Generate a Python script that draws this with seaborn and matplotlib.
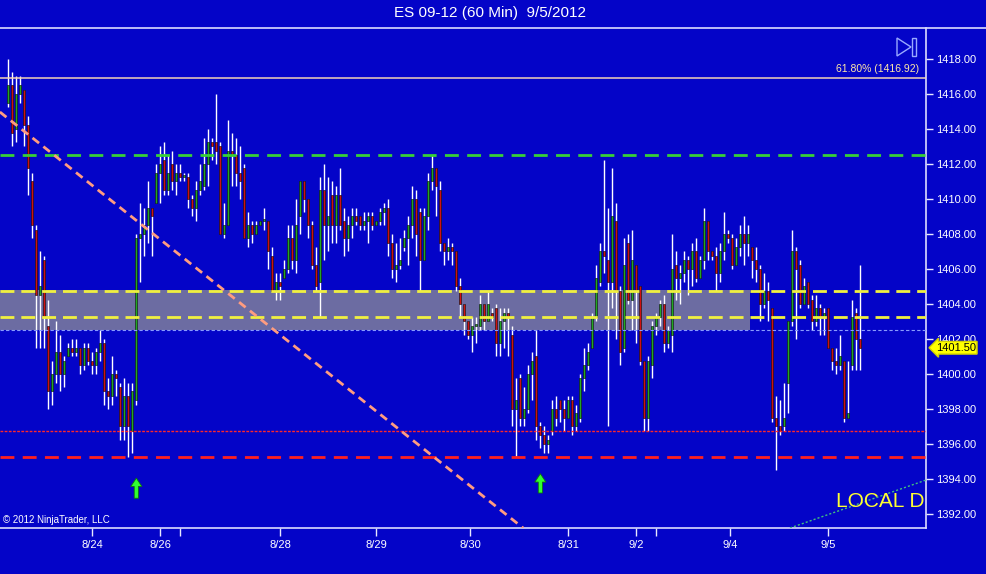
import numpy as np
import pandas as pd
import seaborn as sns
import matplotlib.pyplot as plt
from matplotlib.lines import Line2D
from matplotlib.patches import Polygon, Rectangle
import matplotlib.transforms as mtransforms

# hourly ES bars, 8/23 evening -> 9/5
opens = [1415.5, 1416.5, 1414.0, 1416.0, 1416.25, 1414.25, 1411.0, 1408.25, 1404.5, 1406.5,
         1402.75, 1399.0, 1400.0, 1401.25, 1400.0, 1401.0, 1401.5, 1401.25, 1401.5, 1400.5,
         1401.5, 1400.75, 1400.5, 1401.25, 1401.75, 1399.0, 1398.75, 1400.0, 1399.25, 1397.0,
         1398.75, 1396.75, 1398.5, 1407.75, 1408.0, 1408.5, 1409.5, 1409.75, 1411.5, 1412.25,
         1410.5, 1412.0, 1411.0, 1411.5, 1411.25, 1411.25, 1410.0, 1409.5, 1410.5, 1410.75,
         1412.0, 1413.25, 1413.25, 1413.0, 1408.0, 1408.5, 1412.75, 1412.5, 1411.5, 1411.75,
         1407.75, 1408.5, 1408.0, 1408.5, 1408.75, 1408.75, 1406.75, 1404.75, 1405.25, 1405.5,
         1406.0, 1407.75, 1406.5, 1409.0, 1411.0, 1410.0, 1408.5, 1406.25, 1405.25, 1410.5,
         1408.5, 1410.25, 1408.5, 1410.25, 1408.75, 1407.75, 1408.5, 1409.0, 1409.0, 1408.5,
         1408.75, 1409.0, 1408.5, 1408.75, 1409.25, 1409.5, 1407.5, 1406.0, 1406.25, 1407.25,
         1407.75, 1408.5, 1410.0, 1409.25, 1406.5, 1409.0, 1411.0, 1411.75, 1410.5, 1407.5,
         1407.0, 1407.25, 1407.0, 1405.0, 1404.0, 1403.0, 1402.25, 1402.75, 1402.75, 1404.0,
         1403.0, 1403.5, 1403.75, 1401.75, 1403.0, 1403.5, 1402.25, 1398.0, 1399.75, 1397.5,
         1398.0, 1400.0, 1401.0, 1397.0, 1396.5, 1396.0, 1396.75, 1398.0, 1398.5, 1398.0,
         1397.5, 1398.5, 1397.0, 1397.5, 1399.75, 1400.5, 1401.5, 1403.25, 1405.25, 1407.0,
         1406.5, 1405.25, 1408.75, 1404.75, 1401.5, 1407.5, 1404.25, 1406.25, 1405.0, 1400.75,
         1397.5, 1400.5, 1402.75, 1403.25, 1404.0, 1401.75, 1402.25, 1406.25, 1405.5, 1405.75,
         1406.5, 1406.0, 1407.0, 1405.5, 1406.5, 1408.75, 1407.0, 1406.75, 1405.75, 1407.0,
         1408.0, 1407.75, 1406.25, 1407.25, 1408.0, 1407.5, 1407.25, 1406.5, 1406.0, 1404.0,
         1404.75, 1403.75, 1397.5, 1397.0, 1397.0, 1399.5, 1403.0, 1407.0, 1406.25, 1404.0,
         1405.25, 1404.25, 1403.0, 1403.75, 1403.25, 1403.75, 1401.5, 1400.75, 1400.5, 1400.75,
         1397.5, 1400.5, 1403.5, 1402.0]
highs = [1418.0, 1417.25, 1417.0, 1417.0, 1416.25, 1414.75, 1411.5, 1408.5, 1407.0, 1406.75,
         1404.25, 1400.75, 1403.0, 1402.25, 1401.0, 1401.75, 1402.0, 1402.0, 1401.5, 1401.75,
         1401.75, 1401.25, 1401.5, 1402.5, 1402.0, 1399.75, 1401.0, 1400.25, 1399.5, 1399.75,
         1399.5, 1399.5, 1408.0, 1409.75, 1409.5, 1411.0, 1409.5, 1412.0, 1413.0, 1413.25,
         1412.5, 1412.75, 1412.0, 1412.0, 1411.5, 1411.5, 1410.25, 1411.0, 1412.0, 1413.5,
         1414.0, 1413.5, 1416.0, 1413.25, 1409.75, 1414.5, 1413.75, 1413.5, 1413.0, 1412.0,
         1409.25, 1408.75, 1408.75, 1408.75, 1409.5, 1408.75, 1407.25, 1405.75, 1405.75, 1406.5,
         1408.5, 1408.5, 1410.0, 1411.0, 1411.0, 1410.0, 1408.75, 1407.25, 1411.25, 1412.0,
         1411.25, 1411.0, 1410.75, 1411.75, 1409.5, 1409.0, 1409.5, 1409.5, 1409.0, 1409.25,
         1409.25, 1409.25, 1408.75, 1409.5, 1409.75, 1410.0, 1408.0, 1407.5, 1407.75, 1408.25,
         1409.0, 1410.75, 1410.5, 1409.5, 1409.5, 1411.5, 1412.5, 1411.75, 1411.0, 1407.5,
         1407.75, 1407.5, 1407.0, 1405.5, 1404.0, 1403.0, 1403.25, 1403.25, 1404.5, 1404.0,
         1404.75, 1403.75, 1404.0, 1403.75, 1403.75, 1403.75, 1402.75, 1399.75, 1400.0, 1399.25,
         1400.5, 1401.25, 1402.5, 1397.25, 1397.0, 1396.5, 1398.5, 1398.75, 1398.5, 1398.5,
         1398.75, 1398.75, 1398.25, 1400.0, 1401.5, 1401.75, 1403.5, 1406.25, 1407.5, 1412.25,
         1409.5, 1411.75, 1409.75, 1405.0, 1407.75, 1408.0, 1408.25, 1406.25, 1405.0, 1400.75,
         1401.0, 1403.0, 1403.5, 1404.25, 1404.5, 1402.75, 1408.0, 1407.0, 1406.25, 1407.0,
         1406.75, 1407.5, 1407.75, 1406.75, 1409.5, 1408.75, 1407.0, 1407.25, 1407.5, 1409.25,
         1408.25, 1408.0, 1407.75, 1408.5, 1409.0, 1408.5, 1407.25, 1407.25, 1406.25, 1405.75,
         1405.25, 1403.75, 1398.75, 1398.5, 1399.5, 1403.0, 1408.25, 1407.25, 1406.5, 1405.5,
         1405.25, 1404.5, 1404.5, 1404.0, 1403.75, 1403.75, 1401.5, 1401.5, 1402.25, 1400.75,
         1400.75, 1404.25, 1403.75, 1406.25]
lows = [1415.25, 1413.0, 1413.25, 1415.5, 1413.0, 1410.25, 1407.75, 1401.5, 1401.5, 1401.5,
        1398.0, 1398.25, 1399.5, 1399.0, 1399.25, 1401.0, 1401.0, 1401.0, 1400.0, 1400.25,
        1400.5, 1400.0, 1400.0, 1400.75, 1398.25, 1398.0, 1398.25, 1398.75, 1396.25, 1396.25,
        1395.25, 1395.5, 1398.25, 1405.25, 1406.75, 1407.5, 1406.75, 1409.75, 1409.75, 1410.25,
        1410.25, 1410.5, 1410.25, 1411.0, 1411.0, 1409.5, 1409.0, 1408.75, 1410.25, 1410.5,
        1410.75, 1412.25, 1412.0, 1408.0, 1407.75, 1408.5, 1410.75, 1410.75, 1410.0, 1407.75,
        1407.25, 1407.5, 1408.0, 1408.5, 1408.25, 1406.0, 1404.75, 1404.25, 1404.25, 1405.5,
        1405.75, 1406.0, 1405.75, 1408.0, 1409.25, 1407.75, 1406.0, 1404.75, 1403.25, 1406.5,
        1407.0, 1407.5, 1407.5, 1408.25, 1406.75, 1407.0, 1407.75, 1408.5, 1408.25, 1408.25,
        1407.5, 1408.25, 1408.5, 1408.5, 1408.5, 1406.75, 1405.5, 1405.25, 1406.0, 1407.0,
        1406.25, 1407.75, 1406.75, 1404.75, 1406.5, 1408.25, 1410.5, 1409.0, 1407.0, 1406.25,
        1406.5, 1406.25, 1404.75, 1403.25, 1402.25, 1402.0, 1401.25, 1401.75, 1402.5, 1402.5,
        1403.0, 1403.0, 1401.0, 1401.0, 1401.5, 1401.0, 1397.0, 1395.25, 1397.0, 1397.0,
        1397.75, 1398.5, 1396.25, 1395.75, 1395.5, 1395.5, 1396.5, 1397.0, 1397.25, 1396.75,
        1397.5, 1396.5, 1396.75, 1397.25, 1399.0, 1400.25, 1401.5, 1403.0, 1405.0, 1405.75,
        1397.0, 1403.75, 1402.0, 1400.5, 1401.25, 1404.0, 1402.5, 1401.75, 1400.5, 1396.75,
        1396.75, 1399.75, 1402.25, 1402.75, 1401.25, 1401.5, 1401.25, 1404.25, 1404.0, 1405.25,
        1404.5, 1405.0, 1405.25, 1405.5, 1406.0, 1406.5, 1406.5, 1404.75, 1405.25, 1406.5,
        1407.5, 1406.0, 1406.25, 1406.75, 1406.25, 1406.75, 1405.5, 1405.25, 1403.0, 1403.75,
        1403.0, 1397.25, 1394.5, 1396.5, 1396.75, 1397.75, 1402.75, 1402.0, 1403.75, 1404.0,
        1403.75, 1402.5, 1402.75, 1402.25, 1402.25, 1401.5, 1400.25, 1400.0, 1400.25, 1397.25,
        1397.5, 1400.25, 1400.25, 1400.25]
closes = [1416.5, 1413.75, 1416.0, 1416.5, 1414.25, 1411.75, 1408.5, 1404.5, 1405.0, 1403.25,
          1399.0, 1400.0, 1401.25, 1400.0, 1400.75, 1401.5, 1401.25, 1401.5, 1400.5, 1401.5,
          1400.75, 1400.5, 1401.25, 1401.75, 1399.0, 1398.75, 1400.0, 1399.75, 1397.0, 1398.75,
          1397.0, 1399.0, 1407.75, 1408.0, 1408.5, 1409.5, 1409.0, 1411.5, 1412.0, 1410.5,
          1411.5, 1411.0, 1411.5, 1411.25, 1411.25, 1410.0, 1409.5, 1410.5, 1411.0, 1412.0,
          1413.25, 1413.0, 1412.75, 1408.0, 1408.5, 1412.75, 1412.5, 1411.5, 1411.0, 1407.75,
          1408.5, 1408.0, 1408.5, 1408.75, 1408.75, 1407.0, 1404.75, 1405.25, 1405.0, 1406.0,
          1407.75, 1406.5, 1408.5, 1411.0, 1410.0, 1408.5, 1406.25, 1405.0, 1410.5, 1408.5,
          1409.0, 1408.5, 1410.25, 1408.5, 1407.75, 1408.5, 1409.0, 1408.75, 1408.5, 1408.75,
          1409.0, 1408.5, 1408.75, 1409.25, 1409.5, 1407.5, 1406.0, 1406.25, 1406.5, 1407.75,
          1408.5, 1410.0, 1408.0, 1406.5, 1409.0, 1411.0, 1411.75, 1410.75, 1407.5, 1407.0,
          1407.25, 1407.0, 1405.0, 1404.0, 1403.0, 1402.25, 1402.75, 1402.75, 1404.0, 1403.0,
          1404.0, 1403.25, 1401.75, 1403.0, 1403.5, 1403.25, 1398.0, 1398.5, 1397.5, 1398.0,
          1400.0, 1400.75, 1397.0, 1396.5, 1396.0, 1396.25, 1398.0, 1397.5, 1398.0, 1397.5,
          1398.5, 1397.0, 1397.75, 1399.75, 1400.5, 1401.25, 1403.25, 1405.5, 1407.0, 1406.75,
          1405.25, 1409.0, 1404.75, 1401.25, 1406.25, 1404.25, 1406.5, 1404.75, 1400.75, 1397.5,
          1400.75, 1402.75, 1403.25, 1404.0, 1401.75, 1402.5, 1406.0, 1405.5, 1405.75, 1406.5,
          1406.0, 1407.0, 1405.5, 1406.5, 1408.75, 1407.0, 1406.75, 1405.75, 1407.0, 1408.0,
          1407.75, 1406.25, 1407.25, 1408.0, 1407.5, 1408.0, 1406.5, 1406.0, 1404.0, 1404.75,
          1404.25, 1397.5, 1397.0, 1396.75, 1397.5, 1403.0, 1407.0, 1406.0, 1404.0, 1405.0,
          1404.0, 1403.0, 1403.75, 1403.25, 1403.5, 1401.5, 1400.75, 1400.5, 1401.0, 1397.5,
          1397.75, 1403.25, 1402.0, 1401.5]

# date labels (bar index positions)
tick_pos = [21, 38, 43, 68, 92, 115.5, 140, 157, 162, 180.5, 205]
tick_labels = ['8/24', '8/26', '', '8/28', '8/29', '8/30', '8/31', '9/2', '', '9/4', '9/5']

# drawn levels
fib_level = 1416.92
green_level = 1412.5
zone_top, zone_bottom = 1404.8, 1402.5
zone_end = 185.4
yellow_levels = [1404.75, 1403.25]
blue_level = 1402.5
red_thin_level = 1396.75
red_level = 1395.25
last_price = 1401.50

trend_x = [-2.1, 128.7]
trend_y = [1414.97, 1391.2]
up_trend_x = [195.4, 229.4]
up_trend_y = [1391.2, 1393.94]

signal_x = [32, 133]
signal_tip = [1394.05, 1394.3]
signal_tail = [1392.9, 1393.2]

df = pd.DataFrame({'open': opens, 'high': highs, 'low': lows, 'close': closes})
df['bar'] = np.arange(len(df))

bg = '#0404c8'
sns.set_theme(style='dark', rc={'axes.facecolor': bg, 'figure.facecolor': bg})
plt.rcParams['font.family'] = ['Liberation Sans Narrow', 'Liberation Sans', 'DejaVu Sans']

fig = plt.figure(figsize=(9.86, 5.74), dpi=100)
ax = fig.add_axes([0, 46 / 574, 926 / 986, 500 / 574])
ax.set_facecolor(bg)

# grey zone
ax.fill_between([-3, zone_end], zone_bottom, zone_top, color='#6c6ca2', zorder=1, lw=0)

# candles
ax.vlines(df['bar'], df['low'], df['high'], color='white', lw=1.0, zorder=2)
body = (df['close'] - df['open']).to_numpy()
body = np.where(np.abs(body) < 0.1, 0.1, body)
body_colors = np.where(df['close'] >= df['open'], '#22a822', '#d01010')
ax.bar(df['bar'], body, bottom=df['open'], width=0.55, color=body_colors,
       edgecolor='black', linewidth=0.4, zorder=3)

# horizontal levels
ax.axhline(fib_level, color='#f2d2b8', lw=1.1, zorder=4)
ax.axhline(green_level, color='#38d038', lw=2, dashes=(5, 3), zorder=4)
for lv in yellow_levels:
    ax.axhline(lv, color='#f0f040', lw=2, dashes=(5, 2.5), zorder=4)
ax.axhline(blue_level, color='#8a9cff', lw=0.8, dashes=(3, 2), zorder=4)
ax.axhline(red_thin_level, color='#ff2828', lw=1.0, dashes=(2, 1), zorder=4)
ax.axhline(red_level, color='#ff2020', lw=2, dashes=(5, 3), zorder=4)

# trend lines
sns.lineplot(x=trend_x, y=trend_y, ax=ax, color='#ff9c80', lw=2,
             zorder=4, legend=False).lines[-1].set_dashes((3, 2))
sns.lineplot(x=up_trend_x, y=up_trend_y, ax=ax, color='#40c080', lw=1,
             zorder=4, legend=False).lines[-1].set_dashes((1.5, 1.5))

# signal arrows
for sx, tip, tail in zip(signal_x, signal_tip, signal_tail):
    ax.annotate('', xy=(sx, tip), xytext=(sx, tail),
                arrowprops=dict(arrowstyle='simple,head_width=0.8,head_length=0.6,tail_width=0.3',
                                fc='#30ff30', ec='#107010', lw=0.6, shrinkA=0, shrinkB=0,
                                mutation_scale=10), zorder=5)

ax.set_xlim(-2.075, 229.4)
ax.set_ylim(1391.2, 1419.77)

trans = mtransforms.blended_transform_factory(ax.transAxes, ax.transData)
ax.text(0.9925, fib_level + 0.2, '61.80% (1416.92)', transform=trans, ha='right', va='bottom',
        color='#ffe8a8', fontsize=7.5, zorder=6)
ax.text(206.9, 1392.4, 'LOCAL D', color='#ffff30', fontsize=15, ha='left', va='baseline',
        clip_on=True, zorder=6)
ax.text(0.003, 0.016, '\u00a9 2012 NinjaTrader, LLC', transform=ax.transAxes, color='white',
        fontsize=7, ha='left', va='center', zorder=6)

# price marker
ax.annotate(f'{last_price:.2f}', xy=(1.0, last_price), xycoords=trans, xytext=(7, 0),
            textcoords='offset points', ha='left', va='center', fontsize=8, color='black',
            bbox=dict(boxstyle='larrow,pad=0.12', fc='#ffff00', ec='#d0d000'),
            annotation_clip=False, zorder=7)

# axes styling
ax.grid(False)
ax.yaxis.tick_right()
ax.set_yticks(np.arange(1392, 1419, 2))
ax.set_yticklabels([f'{v:.2f}' for v in np.arange(1392, 1419, 2)])
ax.set_xticks(tick_pos)
ax.set_xticklabels(tick_labels)
ax.tick_params(axis='y', colors='#e8e8ff', labelcolor='white', direction='out', length=5,
               width=1, pad=2, labelsize=8, right=True, left=False)
ax.tick_params(axis='x', colors='#e8e8ff', labelcolor='white', direction='out', length=6,
               width=1, pad=3, labelsize=8, bottom=True)
for side in ['top', 'left']:
    ax.spines[side].set_visible(False)
for side in ['right', 'bottom']:
    ax.spines[side].set_color('#dcdcff')
    ax.spines[side].set_linewidth(1.2)
ax.set_xlabel('')
ax.set_ylabel('')

# title bar
fig.text(0.497, 1 - 13 / 574, 'ES 09-12 (60 Min)  9/5/2012', ha='center', va='center',
         color='white', fontsize=11)
fig.add_artist(Line2D([0, 1], [1 - 27.5 / 574] * 2, transform=fig.transFigure,
                      color='#dcdcff', lw=1.2))

# play-to-end icon
tri = Polygon([[897 / 986, 1 - 38 / 574], [897 / 986, 1 - 56 / 574], [911 / 986, 1 - 47 / 574]],
              closed=True, fill=False, ec='#9aaaff', lw=1, transform=fig.transFigure)
fig.add_artist(tri)
fig.add_artist(Rectangle((912 / 986, 1 - 56 / 574), 4 / 986, 18 / 574, fill=False,
                         ec='#9aaaff', lw=1, transform=fig.transFigure))

fig.savefig('out.png', dpi=100, facecolor=bg)
